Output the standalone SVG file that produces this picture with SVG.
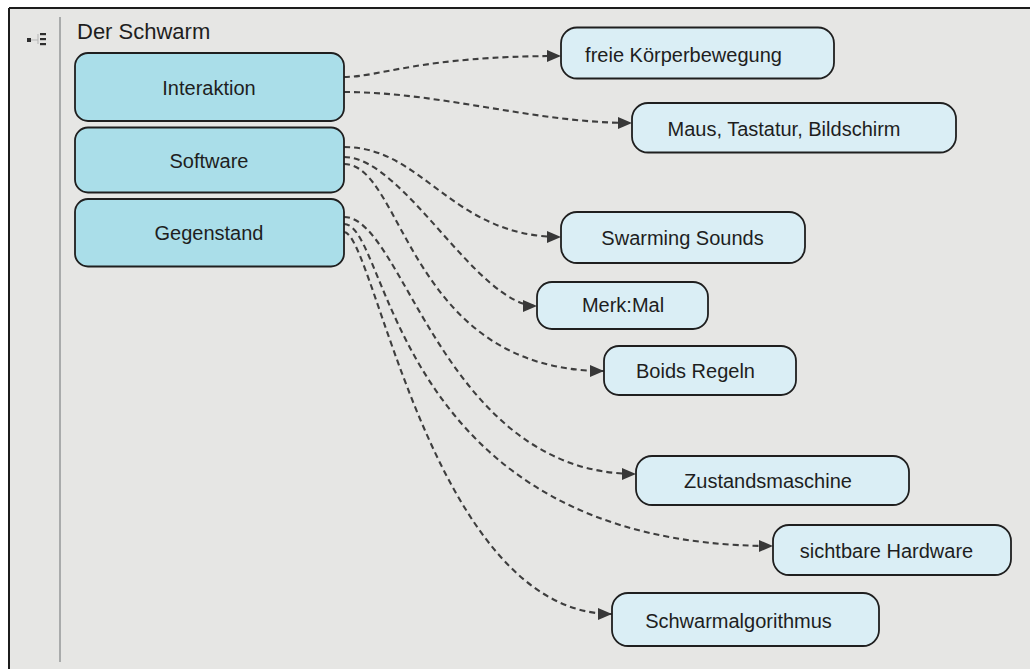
<svg xmlns="http://www.w3.org/2000/svg" width="1030" height="669" viewBox="0 0 1030 669">
  <style>
    .label { font-family: "Liberation Sans", Arial, sans-serif; font-size: 20px; fill: #1e1e1e; text-anchor: middle; }
    .title { font-family: "Liberation Sans", Arial, sans-serif; font-size: 22px; fill: #1e1e1e; }
    .topic rect { fill: #aadee9; stroke: #1f1f1f; stroke-width: 1.8; }
    .item rect { fill: #daeef5; stroke: #1f1f1f; stroke-width: 1.8; }
    .edge { fill: none; stroke: #3e3e3e; stroke-width: 2.1; stroke-dasharray: 6 4; marker-end: url(#arrow); }
  </style>
  <defs>
    <marker id="arrow" markerUnits="userSpaceOnUse" markerWidth="15" markerHeight="13" refX="14" refY="6" orient="auto">
      <path d="M0,0 L14,6 L0,12 Z" fill="#383838"/>
    </marker>
  </defs>

  <!-- canvas and frame -->
  <rect x="0" y="0" width="1030" height="669" fill="#ffffff"/>
  <rect x="9" y="8" width="1021" height="661" fill="#e6e6e4"/>
  <line x1="9" y1="8" x2="1030" y2="8" stroke="#1c1c1c" stroke-width="2"/>
  <line x1="9" y1="8" x2="9" y2="669" stroke="#1c1c1c" stroke-width="2"/>
  <line x1="60" y1="17" x2="60" y2="662" stroke="#a9abab" stroke-width="2"/>

  <!-- outline icon -->
  <g id="outline-icon">
    <line x1="31" y1="40" x2="38" y2="40" stroke="#b5b5b5" stroke-width="1"/>
    <line x1="38" y1="34" x2="38" y2="44" stroke="#b5b5b5" stroke-width="1"/>
    <rect x="27" y="38" width="4" height="4" fill="#2e2e2e"/>
    <rect x="40" y="33" width="6" height="2.2" fill="#2e2e2e"/>
    <rect x="40" y="38" width="6" height="2.2" fill="#2e2e2e"/>
    <rect x="40" y="43" width="6" height="2.2" fill="#2e2e2e"/>
  </g>

  <text id="title" class="title" x="77" y="39">Der Schwarm</text>

  <!-- connectors -->
  <g id="connectors">
    <path class="edge" d="M344,77 C380,77 420,56 561,56"/>
    <path class="edge" d="M344,92 C440,92 535,123 632,123"/>
    <path class="edge" d="M344,147 C424,147 451,237 561,237"/>
    <path class="edge" d="M344,157 C404,157 477,306 537,306"/>
    <path class="edge" d="M344,164 C404,164 408,371 604,371"/>
    <path class="edge" d="M344,217 C404,217 443,474 636,474"/>
    <path class="edge" d="M344,224 C390,224 390,546 773,546"/>
    <path class="edge" d="M344,232 C374,232 432,614 612,614"/>
  </g>

  <!-- topics -->
  <g id="interaktion" class="topic">
    <rect x="75" y="53" width="269" height="68" rx="13"/>
    <text class="label" x="209" y="95">Interaktion</text>
  </g>
  <g id="software" class="topic">
    <rect x="75" y="127.5" width="269" height="65" rx="13"/>
    <text class="label" x="209" y="167.5">Software</text>
  </g>
  <g id="gegenstand" class="topic">
    <rect x="75" y="199" width="269" height="67.5" rx="13"/>
    <text class="label" x="209" y="240">Gegenstand</text>
  </g>

  <!-- items -->
  <g id="freie-koerperbewegung" class="item">
    <rect x="561" y="27.5" width="273" height="51" rx="16"/>
    <text class="label" x="683.5" y="62">freie Körperbewegung</text>
  </g>
  <g id="maus-tastatur-bildschirm" class="item">
    <rect x="632" y="103" width="324" height="49.5" rx="16"/>
    <text class="label" x="784" y="136">Maus, Tastatur, Bildschirm</text>
  </g>
  <g id="swarming-sounds" class="item">
    <rect x="561" y="212" width="244" height="51" rx="16"/>
    <text class="label" x="682.5" y="245">Swarming Sounds</text>
  </g>
  <g id="merk-mal" class="item">
    <rect x="537" y="282" width="171" height="47" rx="15"/>
    <text class="label" x="623" y="312">Merk:Mal</text>
  </g>
  <g id="boids-regeln" class="item">
    <rect x="604" y="346" width="192" height="49" rx="15"/>
    <text class="label" x="695.5" y="378">Boids Regeln</text>
  </g>
  <g id="zustandsmaschine" class="item">
    <rect x="636" y="456" width="273" height="49" rx="16"/>
    <text class="label" x="768" y="488">Zustandsmaschine</text>
  </g>
  <g id="sichtbare-hardware" class="item">
    <rect x="773" y="525" width="238" height="50" rx="16"/>
    <text class="label" x="886.5" y="558">sichtbare Hardware</text>
  </g>
  <g id="schwarmalgorithmus" class="item">
    <rect x="612" y="593" width="267" height="53" rx="16"/>
    <text class="label" x="738.5" y="628">Schwarmalgorithmus</text>
  </g>
</svg>
